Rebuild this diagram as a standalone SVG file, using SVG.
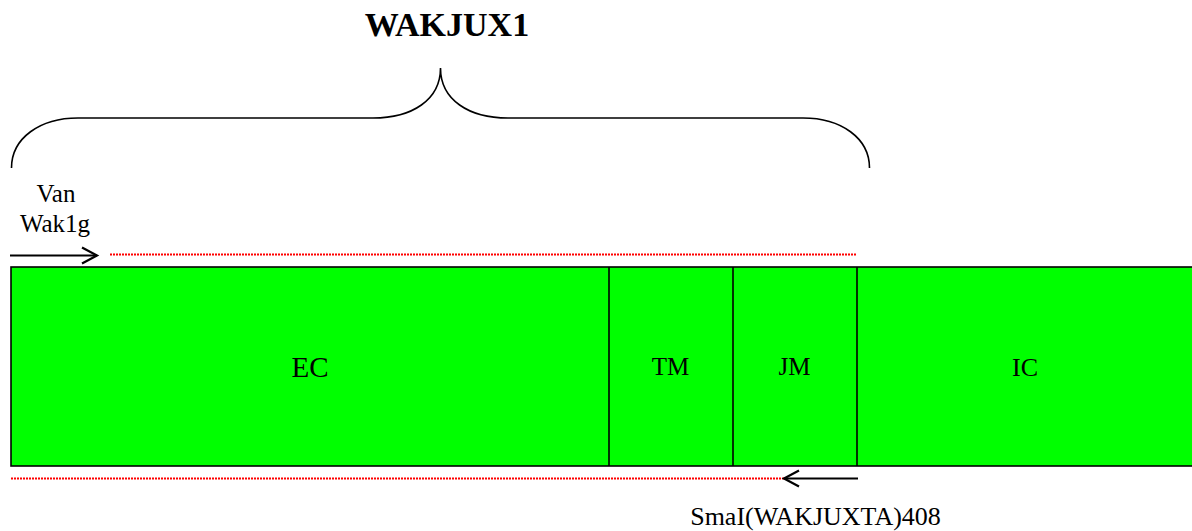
<svg xmlns="http://www.w3.org/2000/svg" width="1192" height="531" viewBox="0 0 1192 531">
<defs>
<style>
.t{font-family:"Liberation Serif","Times New Roman",serif;fill:#000;text-anchor:middle}
.box{fill:#00ff00;stroke:#000;stroke-width:1.6}
.div{stroke:#000;stroke-width:1.6;fill:none}
.red{stroke:#ff0000;stroke-width:2.2;stroke-dasharray:2 1;fill:none}
.ar{stroke:#000;stroke-width:2.2;fill:none}
</style>
<marker id="ah" markerWidth="20" markerHeight="20" viewBox="0 0 20 20" refX="16" refY="10" orient="auto" markerUnits="userSpaceOnUse">
<path d="M1,2 L16,10 L1,18" fill="none" stroke="#000" stroke-width="2.2"/>
</marker>
</defs>
<rect width="1192" height="531" fill="#fff"/>
<g id="title"><text class="t" x="447" y="36" font-size="34" font-weight="bold">WAKJUX1</text></g>
<g id="brace"><path d="M11.5,168 C11.5,138 40,118 78,118 L373,118 C412,118 440.5,100 440.5,68 C440.5,100 469,118 508,118 L803,118 C841,118 869.5,138 869.5,168" fill="none" stroke="#000" stroke-width="1.6"/></g>
<g id="segments">
<g id="EC"><rect class="box" x="11" y="267" width="1200" height="199"/><text class="t" x="310" y="377" font-size="29">EC</text></g>
<g id="TM"><line class="div" x1="609" y1="267" x2="609" y2="466"/><text class="t" x="670.5" y="375" font-size="25">TM</text></g>
<g id="JM"><line class="div" x1="733" y1="267" x2="733" y2="466"/><text class="t" x="794.5" y="375" font-size="25">JM</text></g>
<g id="IC"><line class="div" x1="857" y1="267" x2="857" y2="466"/><text class="t" x="1025" y="376" font-size="26">IC</text></g>
</g>
<g id="primer-fwd"><text class="t" x="56" y="202" font-size="25">Van</text><text class="t" x="55" y="232" font-size="25">Wak1g</text></g>
<g id="primer-rev"><text class="t" x="815.5" y="525" font-size="26">SmaI(WAKJUXTA)408</text></g>
<g id="connectors">
<line class="ar" x1="10" y1="255.5" x2="97" y2="255.5" marker-end="url(#ah)"/>
<line class="red" x1="110" y1="254.5" x2="856" y2="254.5"/>
<line class="red" x1="11" y1="478.5" x2="784" y2="478.5"/>
<line class="ar" x1="858" y1="478.5" x2="784" y2="478.5" marker-end="url(#ah)"/>
</g>
</svg>
